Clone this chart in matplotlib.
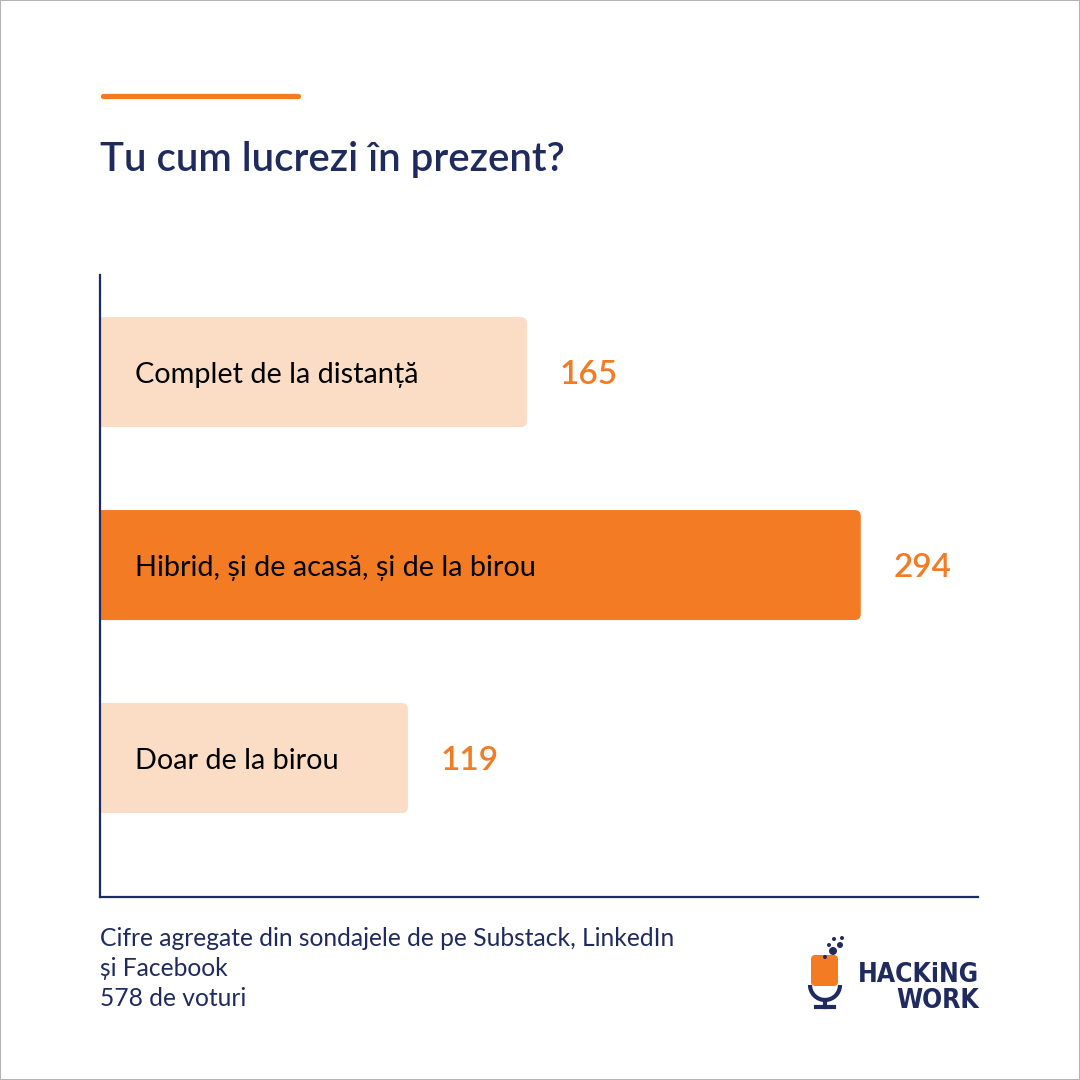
import matplotlib
matplotlib.use("Agg")
import matplotlib.pyplot as plt
from matplotlib.patches import FancyBboxPatch, Rectangle, Circle, Arc
from matplotlib.lines import Line2D

categories = ["Complet de la distanță", "Hibrid, și de acasă, și de la birou", "Doar de la birou"]
values = [165, 294, 119]
highlight = [False, True, False]
title = "Tu cum lucrezi în prezent?"
footer_lines = ["Cifre agregate din sondajele de pe Substack, LinkedIn", "și Facebook", "578 de voturi"]

ORANGE = "#F37B23"
PEACH = "#FBDDC6"
NAVY = "#1F2A5E"
FONT = ["Lato", "DejaVu Sans"]

W = H = 1080
fig = plt.figure(figsize=(10.8, 10.8), dpi=100)
fig.patch.set_facecolor("white")

def fx(px):
    return px / W

def fy(py):
    return 1 - py / H

# border
fig.add_artist(Rectangle((0, 0), 1, 1, transform=fig.transFigure, fill=False,
                         edgecolor="#b5b5b5", linewidth=1.5))

# orange accent line
fig.add_artist(Line2D([fx(102.5), fx(297.5)], [fy(96), fy(96)], transform=fig.transFigure,
                      color=ORANGE, linewidth=3.8, solid_capstyle="round"))

# title
fig.text(fx(100), fy(171), title, fontsize=29, color=NAVY, family=FONT,
         fontweight="semibold", va="baseline", ha="left")

# axes
ax_left, ax_top, ax_right, ax_bottom = 100, 275, 978, 897
ax = fig.add_axes([fx(ax_left), fy(ax_bottom), fx(ax_right - ax_left), (ax_bottom - ax_top) / H])
xmax = 339.3
ax.set_xlim(0, xmax)
ax.set_ylim(2.72, -0.503)
ax.set_facecolor("none")
for s in ["top", "right"]:
    ax.spines[s].set_visible(False)
for s in ["left", "bottom"]:
    ax.spines[s].set_color(NAVY)
    ax.spines[s].set_linewidth(1.6)
    ax.spines[s].set_zorder(5)
ax.set_xticks([])
ax.set_yticks([])

bar_h = 0.57
x_per_px = xmax / (ax_right - ax_left)
y_per_px = (2.72 + 0.503) / (ax_bottom - ax_top)
aspect = y_per_px / x_per_px
r = 6 * x_per_px
for i, (cat, v, hl) in enumerate(zip(categories, values, highlight)):
    start = -3 * r
    p = FancyBboxPatch((start, i - bar_h / 2), v - start, bar_h,
                       boxstyle=f"round,pad=0,rounding_size={r}",
                       mutation_aspect=aspect,
                       facecolor=ORANGE if hl else PEACH, edgecolor="none", zorder=2)
    ax.add_patch(p)
    ax.text(35 * x_per_px, i + 3 * y_per_px, cat, fontsize=20.8, family=FONT,
            color="black", va="center", ha="left", zorder=3)
    ax.text(v + 33 * x_per_px, i + 3 * y_per_px, str(v), fontsize=24, family=FONT,
            fontweight="semibold", color=ORANGE, va="center", ha="left", zorder=3)

# footer
for k, line in enumerate(footer_lines):
    fig.text(fx(100), fy(946 + 30 * k), line, fontsize=17.7, color=NAVY, family=FONT,
             va="baseline", ha="left")

# logo (approximation)
fig.add_artist(FancyBboxPatch((fx(811), fy(986)), fx(27), (986 - 955) / H,
                              boxstyle="round,pad=0,rounding_size=0.004",
                              transform=fig.transFigure, facecolor=ORANGE, edgecolor="none"))
for (cx, cy, rr) in [(833, 951, 4), (840, 945, 3), (829, 945, 2), (834, 939, 2), (842, 938, 2), (825, 957, 2)]:
    fig.add_artist(Circle((fx(cx), fy(cy)), rr / W, transform=fig.transFigure,
                          facecolor=NAVY, edgecolor="none"))
fig.add_artist(Arc((fx(825), fy(985)), fx(30), 30 / H, theta1=180, theta2=360,
                   transform=fig.transFigure, color=NAVY, linewidth=3))
fig.add_artist(Line2D([fx(825), fx(825)], [fy(1000), fy(1007)], transform=fig.transFigure,
                      color=NAVY, linewidth=3))
fig.add_artist(Line2D([fx(816), fx(834)], [fy(1007), fy(1007)], transform=fig.transFigure,
                      color=NAVY, linewidth=3))
LOGO_FONT = ["DejaVu Sans"]
fig.text(fx(979), fy(982), "HACKiNG", fontsize=19, color=NAVY, family=LOGO_FONT,
         fontweight="bold", fontstretch="condensed", va="baseline", ha="right")
fig.text(fx(979), fy(1008), "WORK", fontsize=19, color=NAVY, family=LOGO_FONT,
         fontweight="bold", fontstretch="condensed", va="baseline", ha="right")

fig.savefig("out.png", dpi=100, facecolor="white")
